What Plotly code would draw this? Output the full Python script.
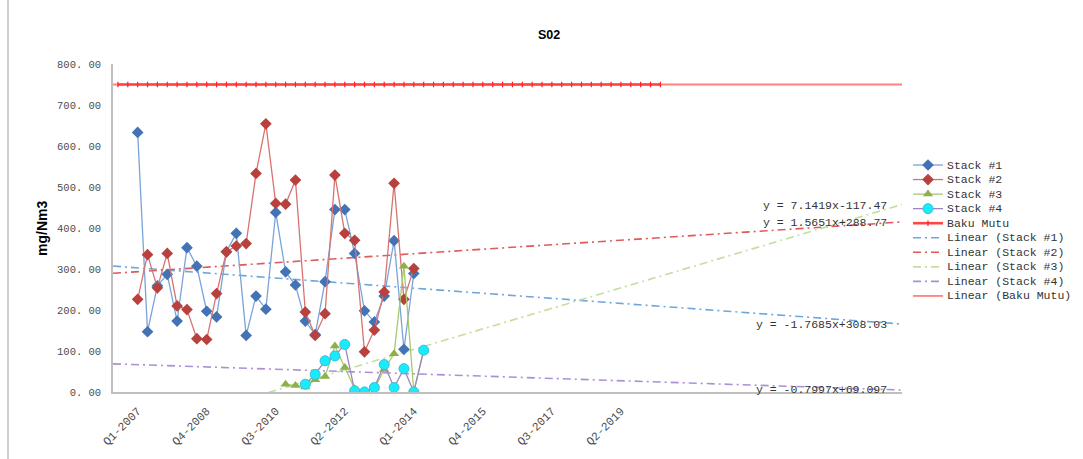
import plotly.graph_objects as go

# ---- categories (quarters) ----
categories = [f"Q{(k + 2) % 4 + 1}-{2006 + (k + 2) // 4}" for k in range(56)]
tick_labels = ["Q1-2007", "Q4-2008", "Q3-2010", "Q2-2012",
               "Q1-2014", "Q4-2015", "Q3-2017", "Q2-2019"]

# ---- measured SO2 (mg/Nm3) ----
stack1_start = "Q1-2007"
stack1 = [633, 147, 259, 287, 173, 352, 307, 197, 183, 342,
          387, 138, 234, 202, 438, 293, 261, 173, 140, 269,
          445, 445, 338, 198, 171, 234, 369, 104, 289]

stack2_start = "Q1-2007"
stack2 = [226, 335, 254, 338, 210, 201, 130, 128, 240, 342,
          356, 362, 533, 654, 460, 458, 517, 195, 138, 191,
          529, 387, 370, 98, 151, 244, 509, 226, 301]

stack3_start = "Q4-2010"
stack3 = [19, 16, 12, 30, 38, 112, 60, 8, 3, 8, 55, 93, 307, 2, 100]

stack4_start = "Q2-2011"
stack4 = [19, 43, 76, 88, 116, 3, 0, 11, 67, 11, 57, 0, 102]

baku_start = "Q3-2006"
baku_mutu = [750] * 56

# ---- linear trendlines: (slope, intercept) ----
trend_names = ["Linear (Stack #1)", "Linear (Stack #2)", "Linear (Stack #3)",
               "Linear (Stack #4)", "Linear (Baku Mutu)"]
trend_slope = [-1.7685, 1.5651, 7.1419, -0.7997, 0.0]
trend_intercept = [308.03, 288.77, -117.47, 69.097, 750.0]

X_MIN, X_MAX = 0.5, 80.5


def positions(start, values):
    i0 = categories.index(start) + 1
    return [i0 + k for k in range(len(values))]


MONO = "Liberation Mono"
DASHDOT = "8px,4px,2px,4px"

series = [
    dict(name="Stack #1", start=stack1_start, y=stack1, line="#7aa4d8",
         mcolor="#4372b5", symbol="diamond", size=9, mline=None),
    dict(name="Stack #2", start=stack2_start, y=stack2, line="#d77371",
         mcolor="#b8413e", symbol="diamond", size=9, mline=None),
    dict(name="Stack #3", start=stack3_start, y=stack3, line="#a7c970",
         mcolor="#8db04a", symbol="triangle-up", size=9, mline=None),
    dict(name="Stack #4", start=stack4_start, y=stack4, line="#9d85c2",
         mcolor="#17ecfc", symbol="circle", size=10, mline="#3fbcd8"),
]
trend_colors = ["#6fa6dc", "#e05a5a", "#c4dea0", "#ab90d6", "#ff8080"]
BAKU_LINE = dict(color="#ff4444", width=2.6)
BAKU_MARK = dict(symbol="line-ns", size=4, line=dict(color="#ff2020", width=1.2))

fig = go.Figure()

# trendlines (drawn first, underneath)
for name, a, b, c in zip(trend_names, trend_slope, trend_intercept, trend_colors):
    xs = [X_MIN, X_MAX]
    solid = name.endswith("Mutu)")
    fig.add_trace(go.Scatter(
        x=xs, y=[a * x + b for x in xs], mode="lines", name=name,
        line=dict(color=c, width=1.8 if solid else 1.6,
                  dash="solid" if solid else DASHDOT),
        showlegend=False, hoverinfo="skip"))

# regulatory limit
fig.add_trace(go.Scatter(
    x=positions(baku_start, baku_mutu), y=baku_mutu, mode="lines+markers",
    name="Baku Mutu", line=BAKU_LINE, marker=BAKU_MARK, showlegend=False))

for s in series:
    mk = dict(symbol=s["symbol"], size=s["size"], color=s["mcolor"])
    mk["line"] = dict(color=s["mline"], width=1) if s["mline"] else dict(width=0)
    fig.add_trace(go.Scatter(
        x=positions(s["start"], s["y"]), y=s["y"], mode="lines+markers",
        name=s["name"], line=dict(color=s["line"], width=1.3), marker=mk,
        showlegend=False))

# ---- hand-built legend on its own pixel-scaled axes ----
L_X0, L_X1, L_Y0, L_Y1 = 908, 1075, 155, 305
PLOT_L, PLOT_R, PLOT_T, PLOT_B = 113, 1075, 64, 392
W, H = PLOT_R - PLOT_L, PLOT_B - PLOT_T
ROW0, ROW_GAP = 165, 14.55
SYM_X0, SYM_X1, TXT_X = 913, 943, 945

legend_rows = []
for s in series:
    legend_rows.append(dict(name=s["name"], line=dict(color=s["line"], width=1.3),
                            marker=dict(symbol=s["symbol"], size=s["size"], color=s["mcolor"],
                                        line=dict(color=s["mline"], width=1) if s["mline"] else dict(width=0))))
legend_rows.append(dict(name="Baku Mutu", line=BAKU_LINE, marker=BAKU_MARK))
for name, c in zip(trend_names, trend_colors):
    solid = name.endswith("Mutu)")
    legend_rows.append(dict(name=name, line=dict(color=c, width=1.8 if solid else 1.6,
                                                 dash="solid" if solid else DASHDOT),
                            marker=None))

for k, row in enumerate(legend_rows):
    yk = ROW0 + k * ROW_GAP
    fig.add_trace(go.Scatter(x=[SYM_X0, SYM_X1], y=[yk, yk], mode="lines", line=row["line"],
                             xaxis="x2", yaxis="y2", showlegend=False, hoverinfo="skip",
                             cliponaxis=False))
    if row["marker"] is not None:
        fig.add_trace(go.Scatter(x=[(SYM_X0 + SYM_X1) / 2], y=[yk], mode="markers",
                                 marker=row["marker"], xaxis="x2", yaxis="y2",
                                 showlegend=False, hoverinfo="skip", cliponaxis=False))
    fig.add_annotation(x=TXT_X, y=yk, xref="x2", yref="y2", text=row["name"],
                       showarrow=False, xanchor="left", yanchor="middle",
                       font=dict(family=MONO, size=11.5, color="#333333"))

# ---- trendline equations ----
def eq_text(a, b):
    sign = "+" if b >= 0 else "-"
    return f"y = {a:g}x{sign}{abs(b):g}"

eq_pos = [(65.5, 165), (66.2, 414), (66.2, 456), (65.5, 5)]
for (ex, ey), a, b in zip(eq_pos, trend_slope[:4], trend_intercept[:4]):
    fig.add_annotation(x=ex, y=ey, xref="x", yref="y", text=eq_text(a, b),
                       showarrow=False, xanchor="left", yanchor="middle",
                       font=dict(family=MONO, size=11.5, color="#333333"))

# y axis title
fig.add_annotation(x=(32 - PLOT_L) / W, y=(PLOT_B - 229) / H, xref="paper", yref="paper",
                   text="<b>mg/Nm3</b>", textangle=-90, showarrow=False,
                   font=dict(family="Liberation Sans", size=14, color="#000000"))

y_ticks = list(range(0, 801, 100))
tick_pos = [categories.index(t) + 1 for t in tick_labels]

fig.update_layout(
    width=1083, height=459,
    margin=dict(l=PLOT_L, r=1083 - PLOT_R, t=PLOT_T, b=459 - PLOT_B),
    paper_bgcolor="white", plot_bgcolor="white",
    title=dict(text="<b>S02</b>", x=549 / 1083, xref="container", xanchor="center",
               y=1 - 35 / 459, yref="container", yanchor="middle",
               font=dict(family="Liberation Sans", size=12.5, color="#000000")),
    xaxis=dict(domain=[0, (902 - PLOT_L) / W], range=[X_MIN, X_MAX],
               tickvals=tick_pos, ticktext=tick_labels, tickangle=-45,
               showline=True, linecolor="#bfbfbf", linewidth=1.5, showgrid=False,
               zeroline=False, ticks="", ticklabelstandoff=6,
               tickfont=dict(family=MONO, size=11.5, color="#4d4d4d")),
    yaxis=dict(range=[0, 800], tickvals=y_ticks,
               ticktext=[f"{v:.2f}".replace(".", ". ") for v in y_ticks],
               showline=True, linecolor="#bfbfbf", linewidth=1.5, showgrid=False,
               zeroline=False, ticks="", ticklabelstandoff=8,
               tickfont=dict(family=MONO, size=10.5, color="#4d4d4d")),
    xaxis2=dict(domain=[(L_X0 - PLOT_L) / W, (L_X1 - PLOT_L) / W], range=[L_X0, L_X1],
                anchor="y2", visible=False, fixedrange=True),
    yaxis2=dict(domain=[(PLOT_B - L_Y1) / H, (PLOT_B - L_Y0) / H], range=[L_Y1, L_Y0],
                anchor="x2", visible=False, fixedrange=True),
    showlegend=False,
)

# chart-area frame (left edge)
fig.add_shape(type="line", xref="paper", yref="paper",
              x0=(8 - PLOT_L) / W, x1=(8 - PLOT_L) / W,
              y0=(PLOT_B - 0) / H, y1=(PLOT_B - 459) / H,
              line=dict(color="#bfbfbf", width=1.5))

fig.write_html("out.html")
